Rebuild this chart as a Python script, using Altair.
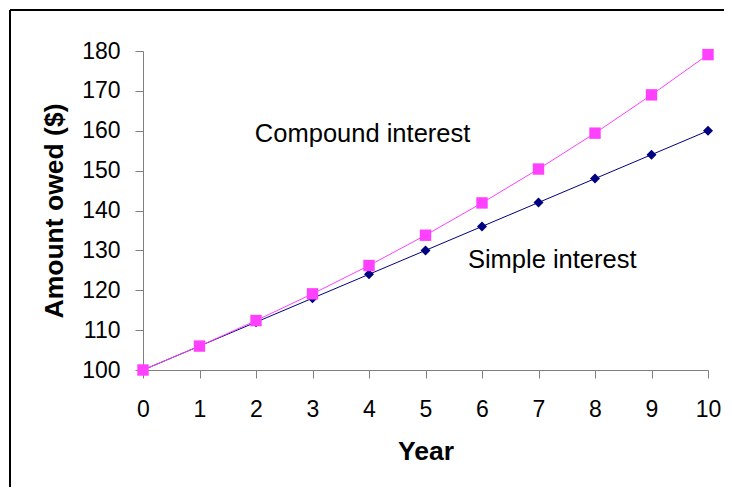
import altair as alt
import pandas as pd

years = [0, 1, 2, 3, 4, 5, 6, 7, 8, 9, 10]
simple = [100, 106, 112, 118, 124, 130, 136, 142, 148, 154, 160]
compound = [100, 106, 112.4, 119.1, 126.2, 133.8, 141.9, 150.4, 159.4, 169.0, 179.1]
y_ticks = [100, 110, 120, 130, 140, 150, 160, 170, 180]

labels = ["Compound interest", "Simple interest"]
label_x = [1.98, 5.75]
label_y = [159.2, 127.6]

df = pd.DataFrame({"Year": years, "Simple": simple, "Compound": compound})
lab = pd.DataFrame({"text": labels, "x": label_x, "y": label_y})

FONT = "Liberation Sans"
xs = alt.Scale(domain=[0, 10], nice=False)
ys = alt.Scale(domain=[100, 180], nice=False, zero=False)

xax = alt.Axis(values=years, title="Year", format="d", titlePadding=17)
yax = alt.Axis(values=y_ticks, title="Amount owed ($)", format="d", titlePadding=13)

def X(f):
    return alt.X(f, scale=xs, axis=xax, title="Year")

def Y(f):
    return alt.Y(f, scale=ys, axis=yax, title="Amount owed ($)")

base = alt.Chart(df)
simple_line = base.mark_line(color="#000080", strokeWidth=1).encode(x=X("Year:Q"), y=Y("Simple:Q"))
simple_pts = base.mark_point(shape="diamond", filled=True, color="#000080", size=100, opacity=1).encode(
    x=X("Year:Q"), y=Y("Simple:Q"))
comp_line = base.mark_line(color="#FF40FF", strokeWidth=1).encode(x=X("Year:Q"), y=Y("Compound:Q"))
comp_pts = base.mark_point(shape="square", filled=True, color="#FF40FF", size=130, opacity=1).encode(
    x=X("Year:Q"), y=Y("Compound:Q"))

text = alt.Chart(lab).mark_text(align="left", baseline="middle", font=FONT, fontSize=25.5, color="black").encode(
    x=X("x:Q"), y=Y("y:Q"), text="text:N")

frame_top = alt.Chart(df).mark_rule(color="black", strokeWidth=1.5).encode(
    x=alt.value(-133), x2=alt.value(700), y=alt.value(-41))
frame_left = alt.Chart(df).mark_rule(color="black", strokeWidth=1.5).encode(
    x=alt.value(-133), y=alt.value(-41), y2=alt.value(520))

chart = alt.layer(simple_line, comp_line, simple_pts, comp_pts, text, frame_top, frame_left).properties(
    width=565, height=319, autosize=alt.AutoSizeParams(type="none"),
    padding={"left": 135, "top": 43, "right": 16, "bottom": 117}
).configure_view(stroke=None).configure_axis(
    grid=False, domainColor="#808080", tickColor="#808080", tickSize=8, labelFlush=False,
    labelFont=FONT, labelFontSize=23, labelColor="black", labelOverlap=False,
    titleFont=FONT, titleFontSize=26.5, titleFontWeight="bold", titleColor="black"
).configure_axisX(labelPadding=20).configure_axisY(labelPadding=15)

chart.save("out.html", embed_options={"renderer": "svg", "actions": False})
